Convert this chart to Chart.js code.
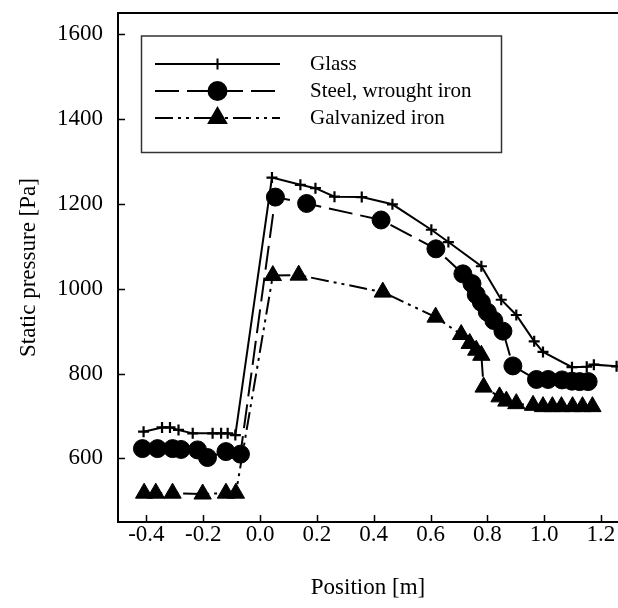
<!DOCTYPE html>
<html>
<head>
<meta charset="utf-8">
<title>Static pressure along the pipe</title>
<script src="https://cdn.jsdelivr.net/npm/chart.js@4.4.0/dist/chart.umd.min.js"></script>
<style>
    html, body { margin: 0; padding: 0; background: #fff; overflow: hidden; }
    #wrap { width: 618px; height: 608px; position: relative; }
    #wrap canvas { display: block; }
</style>
</head>
<body>
<div id="wrap"><canvas id="pressureChart"></canvas></div>
<script>
// Values: position [m] and static pressure [Pa]
const glassX = [-0.41, -0.345, -0.317, -0.287, -0.237, -0.167, -0.137, -0.114, -0.087, 0.042, 0.142, 0.195, 0.262, 0.358, 0.466, 0.603, 0.663, 0.779, 0.849, 0.902, 0.965, 0.996, 1.098, 1.15, 1.175, 1.255];
const glassP = [663, 673, 673, 667, 659, 659, 659, 659, 655, 1262, 1245, 1237, 1217, 1216, 1199, 1139, 1110, 1053, 974, 938, 876, 851, 815, 816, 821, 817];

const steelX = [-0.414, -0.361, -0.308, -0.278, -0.22, -0.185, -0.12, -0.069, 0.054, 0.164, 0.426, 0.619, 0.714, 0.746, 0.761, 0.779, 0.8, 0.823, 0.855, 0.89, 0.973, 1.014, 1.063, 1.098, 1.125, 1.155];
const steelP = [623, 623, 623, 621, 620, 602, 616, 610, 1216, 1201, 1162, 1094, 1035, 1012, 986, 968, 945, 925, 900, 818, 786, 786, 785, 782, 781, 781];

const galvX = [-0.408, -0.367, -0.308, -0.202, -0.12, -0.085, 0.045, 0.136, 0.432, 0.618, 0.708, 0.738, 0.761, 0.779, 0.787, 0.843, 0.867, 0.902, 0.961, 0.996, 1.029, 1.061, 1.1, 1.135, 1.17];
const galvP = [518, 518, 518, 516, 518, 518, 1031, 1032, 992, 933, 892, 871, 855, 843, 768, 745, 735, 729, 725, 722, 722, 722, 722, 722, 722];

const seriesNames = ['Glass', 'Steel, wrought iron', 'Galvanized iron'];
const xTicks = [-0.4, -0.2, 0.0, 0.2, 0.4, 0.6, 0.8, 1.0, 1.2];
const yTicks = [600, 800, 1000, 1200, 1400, 1600];

const toPoints = (xs, ys) => xs.map((x, i) => ({ x: x, y: ys[i] }));

Chart.defaults.font.family = '"Liberation Serif", "Times New Roman", serif';
Chart.defaults.color = '#000';

// inner tick marks, top frame line and the boxed legend
const framePlugin = {
    id: 'frame',
    afterDraw(chart) {
        const ctx = chart.ctx;
        const area = chart.chartArea;
        const xs = chart.scales.x;
        const ys = chart.scales.y;
        ctx.save();
        ctx.strokeStyle = '#000';
        ctx.lineWidth = 1.5;
        ctx.setLineDash([]);
        ctx.beginPath();
        xTicks.forEach(v => {
            const px = Math.round(xs.getPixelForValue(v)) + 0.5;
            ctx.moveTo(px, area.bottom);
            ctx.lineTo(px, area.bottom - 7);
        });
        yTicks.forEach(v => {
            const py = Math.round(ys.getPixelForValue(v)) + 0.5;
            ctx.moveTo(area.left, py);
            ctx.lineTo(area.left + 7, py);
        });
        ctx.stroke();

        ctx.lineWidth = 2;
        ctx.beginPath();
        ctx.moveTo(area.left, area.top);
        ctx.lineTo(area.right, area.top);
        ctx.stroke();

        // legend
        ctx.fillStyle = '#fff';
        ctx.fillRect(141.5, 36, 360, 116.5);
        ctx.strokeStyle = '#333';
        ctx.lineWidth = 1.5;
        ctx.strokeRect(141.5, 36, 360, 116.5);

        chart.data.datasets.forEach((ds, i) => {
            const y = 64 + i * 27;
            ctx.strokeStyle = '#000';
            ctx.fillStyle = '#000';
            ctx.lineWidth = ds.borderWidth;
            ctx.setLineDash(ds.borderDash || []);
            ctx.beginPath();
            ctx.moveTo(155, y);
            ctx.lineTo(280, y);
            ctx.stroke();
            ctx.setLineDash([]);
            Chart.helpers.drawPoint(ctx, {
                pointStyle: ds.pointStyle,
                radius: ds.pointRadius,
                rotation: 0,
                borderWidth: ds.pointBorderWidth
            }, 217.5, y);
            ctx.font = '21px "Liberation Serif", serif';
            ctx.textAlign = 'left';
            ctx.textBaseline = 'middle';
            ctx.fillText(ds.label, 310, y);
        });
        ctx.restore();
    }
};

const ctx = document.getElementById('pressureChart').getContext('2d');
const pressureChart = new Chart(ctx, {
    type: 'line',
    data: {
        datasets: [{
            label: seriesNames[0],
            data: toPoints(glassX, glassP),
            borderColor: '#000',
            backgroundColor: '#000',
            borderWidth: 2,
            pointStyle: 'cross',
            pointRadius: 5.5,
            pointBorderWidth: 2.2,
            pointBorderColor: '#000',
            pointBackgroundColor: '#000'
        }, {
            label: seriesNames[1],
            data: toPoints(steelX, steelP),
            borderColor: '#000',
            backgroundColor: '#000',
            borderWidth: 2,
            borderDash: [24, 8],
            pointStyle: 'circle',
            pointRadius: 9,
            pointBorderWidth: 1,
            pointBorderColor: '#000',
            pointBackgroundColor: '#000'
        }, {
            label: seriesNames[2],
            data: toPoints(galvX, galvP),
            borderColor: '#000',
            backgroundColor: '#000',
            borderWidth: 2,
            borderDash: [18, 5, 3, 5, 3, 5],
            pointStyle: 'triangle',
            pointRadius: 10,
            pointBorderWidth: 1,
            pointBorderColor: '#000',
            pointBackgroundColor: '#000'
        }]
    },
    options: {
        responsive: true,
        maintainAspectRatio: false,
        animation: false,
        layout: {
            autoPadding: false,
            padding: { top: 13, right: 0, bottom: 0, left: 0 }
        },
        plugins: {
            legend: { display: false },
            tooltip: { enabled: false }
        },
        scales: {
            x: {
                type: 'linear',
                min: -0.5,
                max: 1.26,
                afterBuildTicks: scale => { scale.ticks = xTicks.map(v => ({ value: v })); },
                afterFit: scale => {
                    scale.height = 86;
                    scale.paddingLeft = 0;
                    scale.paddingRight = 0;
                },
                grid: { display: false, drawTicks: false },
                border: { display: true, color: '#000', width: 2 },
                ticks: {
                    padding: 1,
                    maxRotation: 0,
                    font: { size: 23, lineHeight: 1 },
                    callback: v => v.toFixed(1)
                },
                title: {
                    display: true,
                    text: 'Position [m]',
                    font: { size: 23, lineHeight: 1 },
                    padding: { top: 0, bottom: 8.5 }
                }
            },
            y: {
                type: 'linear',
                min: 450,
                max: 1650,
                afterBuildTicks: scale => { scale.ticks = yTicks.map(v => ({ value: v })); },
                afterFit: scale => {
                    scale.width = 118;
                    scale.paddingTop = 0;
                    scale.paddingBottom = 0;
                },
                grid: { display: false, drawTicks: false },
                border: { display: true, color: '#000', width: 2 },
                ticks: {
                    padding: 15,
                    font: { size: 23, lineHeight: 1 },
                    callback: v => String(v)
                },
                title: {
                    display: true,
                    text: 'Static pressure [Pa]',
                    font: { size: 23, lineHeight: 1 },
                    padding: { top: 17, bottom: 0 }
                }
            }
        }
    },
    plugins: [framePlugin]
});
</script>
</body>
</html>
